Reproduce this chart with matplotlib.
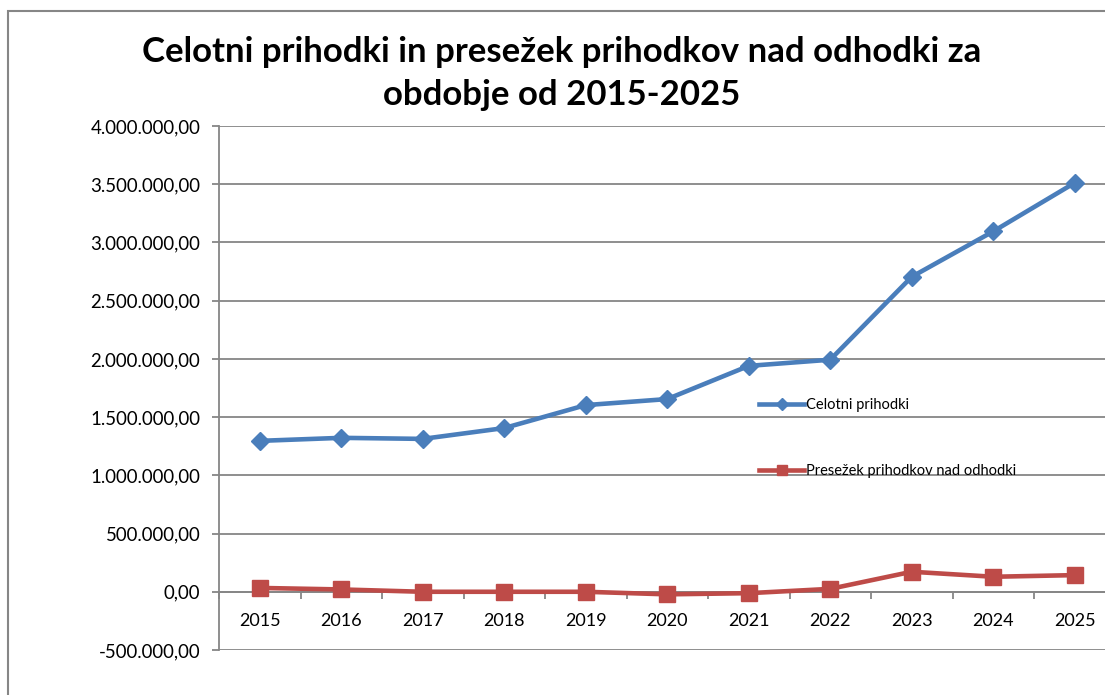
import matplotlib
matplotlib.use("Agg")
import matplotlib.pyplot as plt
from matplotlib.patches import Rectangle
from matplotlib.ticker import FuncFormatter, MultipleLocator, FixedLocator

plt.rcParams['font.family'] = ['Lato', 'DejaVu Sans']

years = ["2015", "2016", "2017", "2018", "2019", "2020", "2021", "2022", "2023", "2024", "2025"]
celotni_prihodki = [1296000, 1322000, 1313000, 1406000, 1603000, 1655000, 1940000, 1993000, 2705000, 3095000, 3512000]
presezek = [33000, 20000, 0, 0, 0, -22000, -12000, 25000, 172000, 129000, 143000]
series_names = ["Celotni prihodki", "Presežek prihodkov nad odhodki"]
title = "Celotni prihodki in presežek prihodkov nad odhodki za\nobdobje od 2015-2025"

W, H = 1105, 695
fig = plt.figure(figsize=(W / 100, H / 100), dpi=100)
fig.patch.set_facecolor("white")

# outer chart frame (cropped on right and bottom)
fig.patches.append(Rectangle((8 / W, -0.2), 1.5, 0.2 + (H - 11) / H,
                             transform=fig.transFigure, fill=False,
                             edgecolor="#868686", linewidth=1.5))

left_px, right_px, top_px, bot_px = 219, 1115.5, 126, 650
ax = fig.add_axes([left_px / W, 1 - bot_px / H, (right_px - left_px) / W, (bot_px - top_px) / H])
ax.set_facecolor("none")

grid_c = "#868686"
x = list(range(len(years)))
ax.set_xlim(-0.5, len(years) - 0.5)
ax.set_ylim(-500000, 4000000)

ax.yaxis.set_major_locator(MultipleLocator(500000))
def fmt(v, pos):
    s = f"{abs(v):,.2f}".replace(",", "X").replace(".", ",").replace("X", ".")
    return ("-" if v < 0 else "") + s
ax.yaxis.set_major_formatter(FuncFormatter(fmt))
ax.grid(axis="y", color=grid_c, linewidth=1.3, zorder=0)
ax.set_axisbelow(True)

for s in ["top", "right"]:
    ax.spines[s].set_visible(False)
ax.spines["left"].set_color(grid_c)
ax.spines["left"].set_linewidth(1.3)
ax.spines["bottom"].set_position(("data", 0))
ax.spines["bottom"].set_color(grid_c)
ax.spines["bottom"].set_linewidth(1.3)

ax.set_xticks(x)
ax.set_xticklabels(years)
ax.xaxis.set_minor_locator(FixedLocator([i + 0.5 for i in range(-1, len(years))]))
ax.tick_params(axis="x", which="major", length=0, pad=15.5, labelsize=13, colors="#000000")
ax.tick_params(axis="x", which="minor", length=5, width=1.3, color=grid_c, direction="out")
ax.tick_params(axis="y", which="major", length=5, width=1.3, color=grid_c, pad=8.5, labelsize=13.4, labelcolor="#000000")

ax.plot(x, celotni_prihodki, color="#4A7EBB", linewidth=3.3, marker="D", markersize=9,
        label=series_names[0], zorder=3, clip_on=False)
ax.plot(x, presezek, color="#BE4B48", linewidth=3.3, marker="s", markersize=11,
        label=series_names[1], zorder=3, clip_on=False)

leg = ax.legend(loc="upper left", bbox_to_anchor=(759 / W, 1 - 398 / H), bbox_transform=fig.transFigure,
                frameon=False, fontsize=10.5, handlelength=3.1, handletextpad=0.15,
                labelspacing=3.6, borderpad=0, borderaxespad=0, markerscale=0.65)

fig.text(562 / W, 1 - 73.5 / H, title, ha="center", va="center", fontsize=25, fontweight="bold",
         linespacing=1.4)

fig.savefig("out.png", dpi=100)
